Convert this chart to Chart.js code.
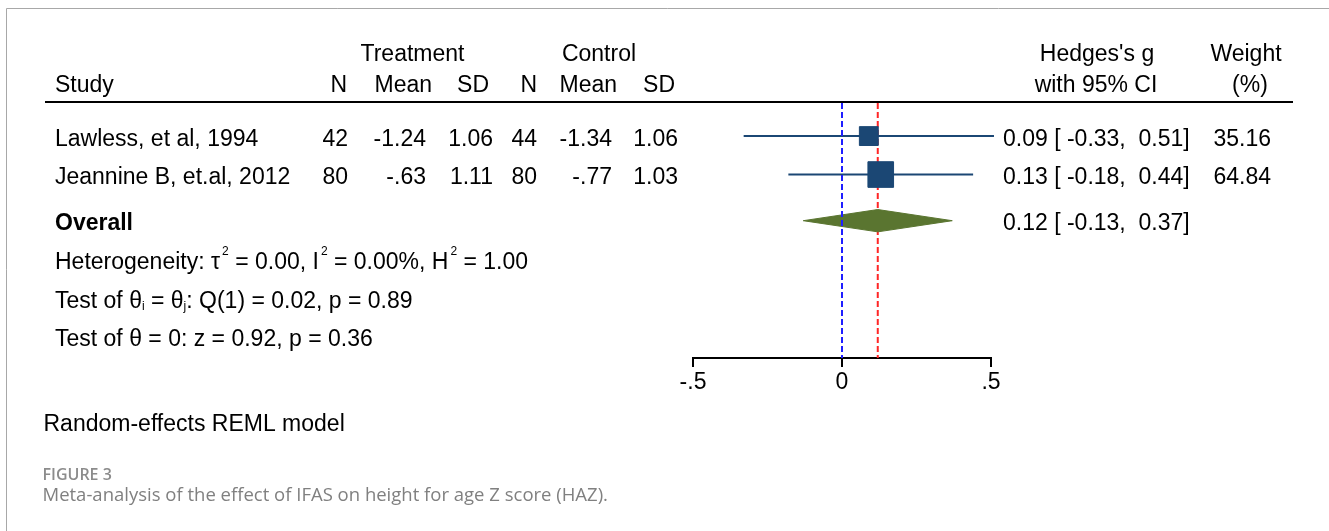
<!DOCTYPE html>
<html>
<head>
<meta charset="utf-8">
<script src="https://cdn.jsdelivr.net/npm/chart.js@4.4.1/dist/chart.umd.min.js"></script>
<style>
  html, body { margin: 0; padding: 0; background: #fff; }
  canvas { display: block; }
</style>
</head>
<body>
<canvas id="forest" width="1329" height="531"></canvas>
<script>
// study data
var studies = ['Lawless, et al, 1994', 'Jeannine B, et.al, 2012'];
var treatN = [42, 80];
var treatMean = [-1.24, -0.63];
var treatSD = [1.06, 1.11];
var ctrlN = [44, 80];
var ctrlMean = [-1.34, -0.77];
var ctrlSD = [1.06, 1.03];
var effect = [0.09, 0.13];
var ciLow = [-0.33, -0.18];
var ciHigh = [0.51, 0.44];
var weights = [35.16, 64.84];
var studyRows = [1, 2];

// overall estimate: [est, low, high]
var overall = [0.12, -0.13, 0.37];
var overallRow = 3.2;

// axis
var xTicks = [-0.5, 0, 0.5];
var xTickLabels = ['-.5', '0', '.5'];
var yTop = 0.14, yBottom = 6.77;

var FONT = '"Liberation Sans", Arial, sans-serif';
var NAVY = '#1b4774';

function f2(v) { return v.toFixed(2); }
// stata style: -.63 instead of -0.63
function stata(v) { return v.toFixed(2).replace(/^(-?)0\./, '$1.'); }
function pad(s, n) { while (s.length < n) s = ' ' + s; return s; }
function ciText(e, lo, hi) { return f2(e) + ' [' + pad(f2(lo), 6) + ',' + pad(f2(hi), 6) + ']'; }

var datasets = [];

// no effect line
datasets.push({
  data: [{ x: 0, y: yTop }, { x: 0, y: yBottom }],
  showLine: true, borderColor: '#1f1fff', borderWidth: 2, borderDash: [6, 3],
  pointRadius: 0, order: 0
});

// CI lines
studies.forEach(function (s, i) {
  datasets.push({
    data: [{ x: ciLow[i], y: studyRows[i] }, { x: ciHigh[i], y: studyRows[i] }],
    showLine: true, borderColor: NAVY, borderWidth: 2, pointRadius: 0, order: 2
  });
});

// weighted squares
datasets.push({
  data: effect.map(function (e, i) { return { x: e, y: studyRows[i] }; }),
  pointStyle: 'rect',
  pointRadius: weights.map(function (w) { return 2.25 * Math.sqrt(w); }),
  backgroundColor: NAVY, borderColor: NAVY, borderWidth: 1, order: 1
});

// overall diamond
datasets.push({
  data: [
    { x: overall[1], y: overallRow },
    { x: overall[0], y: overallRow - 0.29 },
    { x: overall[2], y: overallRow },
    { x: overall[0], y: overallRow + 0.29 },
    { x: overall[1], y: overallRow }
  ],
  showLine: true, fill: 'shape', borderColor: '#5a7530', backgroundColor: '#5a7530',
  borderWidth: 1, pointRadius: 0, tension: 0, order: 2
});

// overall line
datasets.push({
  data: [{ x: overall[0], y: yTop }, { x: overall[0], y: yBottom }],
  showLine: true, borderColor: '#ff2626', borderWidth: 2, borderDash: [6, 3],
  pointRadius: 0, order: 3
});

datasets.forEach(function (d) { d.clip = false; });

function richText(ctx, parts, x, baseline) {
  parts.forEach(function (p) {
    ctx.font = (p.sup || p.sub) ? '12px ' + FONT : '23px ' + FONT;
    var dy = p.sup ? -14 : (p.sub ? 2 : 0);
    var gap = p.sup ? 2 : 0;
    ctx.fillText(p.t, x + gap, baseline + dy);
    x += ctx.measureText(p.t).width + gap;
  });
}

var textPlugin = {
  id: 'forestText',
  beforeDraw: function (chart) {
    var ctx = chart.ctx;
    ctx.save();
    ctx.fillStyle = '#fff';
    ctx.fillRect(0, 0, chart.width, chart.height);
    // frame
    ctx.strokeStyle = '#a8a8a8';
    ctx.lineWidth = 1;
    ctx.beginPath();
    ctx.moveTo(6.5, chart.height);
    ctx.lineTo(6.5, 8.5);
    ctx.lineTo(chart.width, 8.5);
    ctx.stroke();
    ctx.restore();
  },
  afterDraw: function (chart) {
    var ctx = chart.ctx, ys = chart.scales.y, area = chart.chartArea;
    ctx.save();
    ctx.fillStyle = '#000';
    ctx.textBaseline = 'alphabetic';

    // header rule
    ctx.strokeStyle = '#000';
    ctx.lineWidth = 2;
    ctx.beginPath();
    ctx.moveTo(45, area.top - 1);
    ctx.lineTo(1293, area.top - 1);
    ctx.stroke();

    ctx.font = '23px ' + FONT;
    ctx.textAlign = 'center';
    ctx.fillText('Treatment', 412.5, 61);
    ctx.fillText('Control', 599, 61);
    ctx.fillText("Hedges's g", 1097, 61);
    ctx.fillText('Weight', 1246, 61);
    ctx.fillText('with 95% CI', 1096, 92);
    ctx.fillText('(%)', 1250, 92);

    ctx.textAlign = 'left';
    ctx.fillText('Study', 55, 92);
    ctx.textAlign = 'right';
    var heads = ['N', 'Mean', 'SD', 'N', 'Mean', 'SD'];
    var headRight = [347, 432, 489, 537, 617, 675];
    heads.forEach(function (h, i) { ctx.fillText(h, headRight[i], 92); });

    var valRight = [348, 426, 493, 537, 612, 678];
    studies.forEach(function (s, i) {
      var b = ys.getPixelForValue(studyRows[i]) + 9.5;
      ctx.textAlign = 'left';
      ctx.fillText(s, 55, b);
      ctx.fillText(ciText(effect[i], ciLow[i], ciHigh[i]), 1003, b);
      ctx.textAlign = 'right';
      var cells = [String(treatN[i]), stata(treatMean[i]), stata(treatSD[i]),
                   String(ctrlN[i]), stata(ctrlMean[i]), stata(ctrlSD[i])];
      cells.forEach(function (c, j) { ctx.fillText(c, valRight[j], b); });
      ctx.fillText(weights[i].toFixed(2), 1271, b);
    });

    var ob = ys.getPixelForValue(overallRow) + 9;
    ctx.textAlign = 'left';
    ctx.font = 'bold 23px ' + FONT;
    ctx.fillText('Overall', 55, ob);
    ctx.font = '23px ' + FONT;
    ctx.fillText(ciText(overall[0], overall[1], overall[2]), 1003, ob);

    richText(ctx, [{ t: 'Heterogeneity: \u03c4' }, { t: '2', sup: true }, { t: ' = 0.00, I' },
      { t: '2', sup: true }, { t: ' = 0.00%, H' }, { t: '2', sup: true }, { t: ' = 1.00' }], 55, 269);
    richText(ctx, [{ t: 'Test of \u03b8' }, { t: 'i', sub: true }, { t: ' = \u03b8' }, { t: 'j', sub: true },
      { t: ': Q(1) = 0.02, p = 0.89' }], 55, 308);
    richText(ctx, [{ t: 'Test of \u03b8 = 0: z = 0.92, p = 0.36' }], 55, 346);

    ctx.font = '23px ' + FONT;
    ctx.fillText('Random-effects REML model', 43.5, 431);

    ctx.fillStyle = '#8c8c8c';
    ctx.font = '600 16px "Open Sans", sans-serif';
    ctx.fillText('FIGURE 3', 42.5, 480);
    ctx.fillStyle = '#808080';
    ctx.font = '18.5px "Open Sans", sans-serif';
    ctx.fillText('Meta-analysis of the effect of IFAS on height for age Z score (HAZ).', 42.5, 501);
    ctx.restore();
  }
};

Chart.defaults.font.family = FONT;

var chart = new Chart(document.getElementById('forest').getContext('2d'), {
  type: 'scatter',
  data: { datasets: datasets },
  options: {
    responsive: false,
    animation: false,
    events: [],
    layout: { padding: { left: 693, right: 338, top: 103, bottom: 133 } },
    plugins: { legend: { display: false }, tooltip: { enabled: false } },
    scales: {
      x: {
        type: 'linear', min: -0.5, max: 0.5,
        afterBuildTicks: function (s) { s.ticks = xTicks.map(function (v) { return { value: v }; }); },
        afterFit: function (s) { s.height = 40; },
        ticks: {
          autoSkip: false, maxRotation: 0, padding: 2, color: '#000',
          font: { size: 23 },
          callback: function (v, i) { return xTickLabels[i]; }
        },
        grid: { drawOnChartArea: false, drawTicks: true, tickLength: 9, color: '#000', lineWidth: 2 },
        border: { display: true, color: '#000', width: 2 }
      },
      y: { type: 'linear', reverse: true, min: yTop, max: yBottom, display: false }
    }
  },
  plugins: [textPlugin]
});
</script>
</body>
</html>
